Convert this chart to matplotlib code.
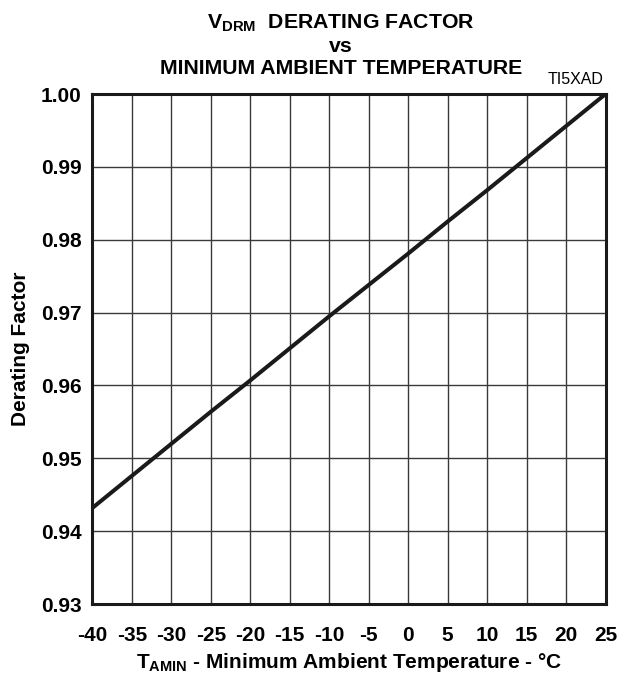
import matplotlib
matplotlib.use("Agg")
import matplotlib.pyplot as plt

# values
temp_c = [-40, -35, -30, -25, -20, -15, -10, -5, 0, 5, 10, 15, 20, 25]
derating = [0.9432, 0.9476, 0.9520, 0.9564, 0.9607, 0.9651, 0.9695,
            0.9738, 0.9781, 0.9825, 0.9868, 0.9912, 0.9956, 1.0000]
xticks = list(range(-40, 30, 5))
yticks = [0.93, 0.94, 0.95, 0.96, 0.97, 0.98, 0.99, 1.00]

plt.rcParams['font.family'] = ['Liberation Sans', 'DejaVu Sans']
plt.rcParams['mathtext.fontset'] = 'custom'
plt.rcParams['mathtext.rm'] = 'Liberation Sans'
plt.rcParams['mathtext.bf'] = 'Liberation Sans:bold'

fig = plt.figure(figsize=(6.19, 6.78), dpi=100)
ax = fig.add_axes([0.1494, 0.1091, 0.8288, 0.7522])

ax.plot(temp_c, derating, color='#1a1a1a', lw=2.9, solid_capstyle='butt')

ax.set_xlim(-40, 25)
ax.set_ylim(0.93, 1.00)
ax.set_xticks(xticks)
ax.set_yticks(yticks)
ax.set_xticklabels([str(t) for t in xticks], fontsize=15, fontweight='bold')
ax.set_yticklabels([f"{v:.2f}" for v in yticks], fontsize=15, fontweight='bold')
ax.tick_params(axis='x', length=0, pad=16)
ax.tick_params(axis='y', length=0, pad=8)
ax.grid(True, color='#3a3a3a', lw=1.0)
for s in ax.spines.values():
    s.set_linewidth(2.2)
    s.set_color('#1a1a1a')

ax.set_ylabel('Derating Factor', fontsize=15, fontweight='bold', labelpad=8)
ax.set_xlabel(r'T$_{\mathbf{AMIN}}$ - Minimum Ambient Temperature - °C',
              fontsize=15, fontweight='bold', labelpad=4)

tx = 341 / 619
fig.text(tx, 1 - 23 / 678, r'V$_{\mathbf{DRM}}$  DERATING FACTOR', ha='center', va='center',
         fontsize=15.3, fontweight='bold')
fig.text(tx, 1 - 46 / 678, 'vs', ha='center', va='center', fontsize=15.3, fontweight='bold')
fig.text(tx, 1 - 69 / 678, 'MINIMUM AMBIENT TEMPERATURE', ha='center', va='center',
         fontsize=15.3, fontweight='bold')
fig.text(576 / 619, 1 - 80 / 678, 'TI5XAD', ha='center', va='center', fontsize=11.5)

fig.savefig('out.png', dpi=100)
